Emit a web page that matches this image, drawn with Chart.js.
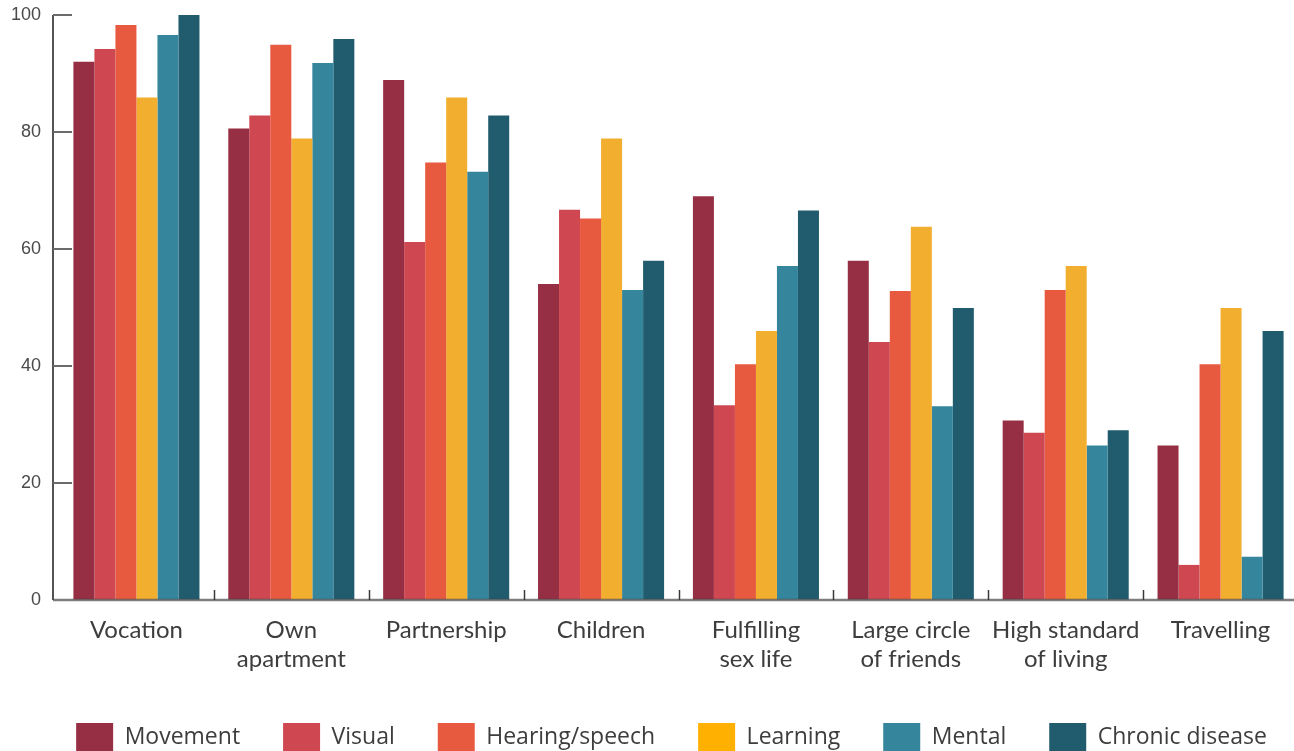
<!DOCTYPE html>
<html>
<head>
<meta charset="utf-8">
<script src="https://cdn.jsdelivr.net/npm/chart.js@4.4.1/dist/chart.umd.min.js"></script>
<style>
  html, body { margin: 0; padding: 0; background: #fff; overflow: hidden; }
  #wrap { width: 1294px; height: 751px; overflow: hidden; position: relative; }
  #chart { position: absolute; left: 0; top: 0; }
</style>
</head>
<body>
<div id="wrap"><canvas id="chart" width="1300" height="761"></canvas></div>
<script>
// categories (multi-line labels as arrays)
const categories = [
    'Vocation',
    ['Own', 'apartment'],
    'Partnership',
    'Children',
    ['Fulfilling', 'sex life'],
    ['Large circle', 'of friends'],
    ['High standard', 'of living'],
    'Travelling'
];

const seriesNames = ['Movement', 'Visual', 'Hearing/speech', 'Learning', 'Mental', 'Chronic disease'];

// values per series, one per category
const movement = [92, 80.6, 88.9, 54, 69, 58, 30.7, 26.4];
const visual = [94.2, 82.8, 61.2, 66.7, 33.3, 44.1, 28.6, 6];
const hearing = [98.3, 94.9, 74.8, 65.2, 40.3, 52.8, 53, 40.3];
const learning = [85.9, 78.9, 85.9, 78.9, 46, 63.8, 57.1, 49.9];
const mental = [96.6, 91.8, 73.2, 53, 57.1, 33.1, 26.4, 7.4];
const chronic = [100, 95.9, 82.8, 58, 66.6, 49.9, 29, 46];

const yTicks = [0, 20, 40, 60, 80, 100];

const barColors = ['#962f43', '#cf4750', '#e85a40', '#f2ae2e', '#35869d', '#215c6e'];
const legendColors = ['#962f43', '#cf4750', '#e85a40', '#ffb000', '#35869d', '#215c6e'];

const allSeries = [movement, visual, hearing, learning, mental, chronic];

// custom axis drawing: y axis line with inward ticks, baseline and category separators
const axisPlugin = {
    id: 'axisPlugin',
    afterLayout(chart) {
        // nudge the legend row to the right, like the original
        chart.legend.left += 19;
        chart.legend.right += 19;
    },
    afterDatasetsDraw(chart) {
        const ctx = chart.ctx;
        const area = chart.chartArea;
        const x = chart.scales.x;
        const y = chart.scales.y;
        const axisX = area.left - 6;
        ctx.save();

        // y axis line
        ctx.strokeStyle = '#1a1a1a';
        ctx.lineWidth = 1.5;
        ctx.beginPath();
        ctx.moveTo(axisX, y.getPixelForValue(100));
        ctx.lineTo(axisX, y.getPixelForValue(0));
        ctx.stroke();

        // inward y ticks
        ctx.strokeStyle = '#6b6b6b';
        ctx.lineWidth = 2;
        yTicks.forEach(v => {
            if (v === 0) return;
            const py = y.getPixelForValue(v);
            ctx.beginPath();
            ctx.moveTo(axisX, py);
            ctx.lineTo(axisX + 19, py);
            ctx.stroke();
        });

        // baseline
        const by = y.getPixelForValue(0);
        ctx.strokeStyle = 'rgba(70,70,70,0.7)';
        ctx.lineWidth = 2.5;
        ctx.beginPath();
        ctx.moveTo(axisX, by);
        ctx.lineTo(area.right, by);
        ctx.stroke();

        // category separators
        ctx.strokeStyle = '#3a3a3a';
        ctx.lineWidth = 1.5;
        for (let i = 1; i < categories.length; i++) {
            const px = Math.round((x.getPixelForValue(i - 1) + x.getPixelForValue(i)) / 2) + 0.5;
            ctx.beginPath();
            ctx.moveTo(px, by - 10);
            ctx.lineTo(px, by);
            ctx.stroke();
        }
        ctx.restore();
    }
};

const ctx = document.getElementById('chart').getContext('2d');
const chart = new Chart(ctx, {
    type: 'bar',
    data: {
        labels: categories,
        datasets: seriesNames.map((name, i) => ({
            label: name,
            data: allSeries[i],
            backgroundColor: barColors[i],
            borderWidth: 0,
            categoryPercentage: 0.814,
            barPercentage: 1
        }))
    },
    options: {
        responsive: false,
        animation: false,
        layout: {
            padding: { left: 7, right: 2, top: 15, bottom: 0 }
        },
        plugins: {
            tooltip: { enabled: false },
            legend: {
                position: 'bottom',
                labels: {
                    boxWidth: 37,
                    boxHeight: 28,
                    padding: 43,
                    color: '#3d3d3d',
                    font: { family: '"Open Sans", "Noto Sans", sans-serif', size: 23 },
                    generateLabels(chart) {
                        const items = Chart.defaults.plugins.legend.labels.generateLabels(chart);
                        items.forEach((it, i) => {
                            it.fillStyle = legendColors[i];
                            it.strokeStyle = legendColors[i];
                            it.lineWidth = 0;
                        });
                        return items;
                    }
                }
            }
        },
        scales: {
            x: {
                grid: { display: false, drawTicks: false },
                border: { display: false },
                ticks: {
                    autoSkip: false,
                    maxRotation: 0,
                    padding: 16,
                    color: '#3d3d3d',
                    font: { family: 'Lato, sans-serif', size: 24, lineHeight: 1.2 }
                },
                afterFit(scale) { scale.height = 80; }
            },
            y: {
                min: 0,
                max: 100,
                grid: { display: true, color: 'rgba(0,0,0,0)', drawOnChartArea: false, drawTicks: true, tickLength: 16 },
                border: { display: false },
                ticks: {
                    stepSize: 20,
                    padding: 2,
                    color: '#4a4a4a',
                    font: { family: '"Liberation Sans", Arial, sans-serif', size: 18 }
                },
                afterFit(scale) { scale.width = 52; }
            }
        }
    },
    plugins: [axisPlugin]
});
</script>
</body>
</html>
